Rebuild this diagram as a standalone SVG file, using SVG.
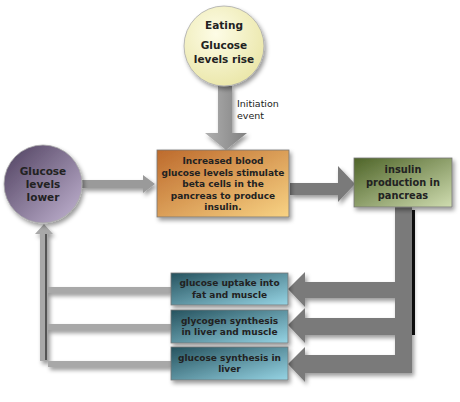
<svg xmlns="http://www.w3.org/2000/svg" width="460" height="402" viewBox="0 0 460 402">
<defs>
<radialGradient id="gYellow" cx="0.4" cy="0.35" r="0.7">
<stop offset="0" stop-color="#fdfce6"/><stop offset="1" stop-color="#eae6a8"/>
</radialGradient>
<linearGradient id="gPurple" x1="0" y1="0" x2="1" y2="1">
<stop offset="0" stop-color="#4e3f5e"/><stop offset="1" stop-color="#c3b5d3"/>
</linearGradient>
<linearGradient id="gOrange" x1="0" y1="0" x2="1" y2="1">
<stop offset="0" stop-color="#bd6a2c"/><stop offset="1" stop-color="#f8d384"/>
</linearGradient>
<linearGradient id="gGreen" x1="0" y1="0" x2="1" y2="1">
<stop offset="0" stop-color="#4e6428"/><stop offset="1" stop-color="#cfdcb0"/>
</linearGradient>
<linearGradient id="gTeal" x1="0" y1="0" x2="1" y2="1">
<stop offset="0" stop-color="#25525e"/><stop offset="1" stop-color="#96d4e4"/>
</linearGradient>
<linearGradient id="gShaft" x1="0" y1="0" x2="1" y2="0">
<stop offset="0" stop-color="#b0b0b0"/><stop offset="1" stop-color="#808080"/>
</linearGradient>
<filter id="sh" x="-20%" y="-20%" width="150%" height="150%">
<feDropShadow dx="2" dy="3" stdDeviation="2" flood-color="#000" flood-opacity="0.4"/>
</filter>
</defs>
<style>
.t{font-family:"DejaVu Sans",Verdana,sans-serif;font-weight:bold;fill:#222;text-anchor:middle}
.n{font-family:"DejaVu Sans",Verdana,sans-serif;fill:#222}
.box{stroke:#777;stroke-width:0.8}
</style>
<g id="connectors">
<path d="M218 86 H232 V133 H247 L226 150 L205 133 H218 Z" fill="url(#gShaft)" filter="url(#sh)"/>
<path d="M82 180 H143 V175 L155 184 L143 193 V188 H82 Z" fill="#9a9a9a" filter="url(#sh)"/>
<path d="M290 183 H338 V166 L355 184 L338 202 V195 H290 Z" fill="#7a7a7a" filter="url(#sh)"/>
<rect x="412" y="210" width="3" height="125" fill="#111"/>
<path d="M395 207 H412 V373 H305 V382 L288 364 L305 347 V355 H395 V335 H305 V343 L288 325 L305 308 V318 H395 V298 H305 V307 L288 289 L305 272 V282 H395 Z" fill="#7a7a7a" filter="url(#sh)"/>
<path d="M171 287 H48 V293 H171 Z M171 324 H48 V330 H171 Z M171 361 H40 V234 H35 L44 224 L53 234 H48 V367 H171 Z" fill="#a8a8a8" filter="url(#sh)"/>
<rect x="45" y="234" width="2" height="126" fill="#555"/>
</g>
<g id="eating">
<circle cx="224" cy="46" r="40" fill="url(#gYellow)" stroke="#aaa" stroke-width="0.8" filter="url(#sh)"/>
<text class="t" x="224" y="29" font-size="10.5">Eating</text>
<text class="t" x="224" y="49" font-size="10.5">Glucose</text>
<text class="t" x="224" y="63" font-size="10.5">levels rise</text>
</g>
<g id="initiation-label">
<text class="n" x="237" y="107" font-size="9.5">Initiation</text>
<text class="n" x="237" y="119" font-size="9.5">event</text>
</g>
<g id="glucose-lower">
<circle cx="43" cy="184" r="39" fill="url(#gPurple)" stroke="#aaa" stroke-width="0.8" filter="url(#sh)"/>
<text class="t" x="43" y="175" font-size="10.5">Glucose</text>
<text class="t" x="43" y="188" font-size="10.5">levels</text>
<text class="t" x="43" y="201" font-size="10.5">lower</text>
</g>
<g id="stimulate">
<rect class="box" x="157" y="150" width="132" height="67" fill="url(#gOrange)" filter="url(#sh)"/>
<text class="t" x="223" y="164" font-size="9">Increased blood</text>
<text class="t" x="223" y="176" font-size="9">glucose levels stimulate</text>
<text class="t" x="223" y="187" font-size="9">beta cells in the</text>
<text class="t" x="223" y="199" font-size="9">pancreas to produce</text>
<text class="t" x="223" y="210" font-size="9">insulin.</text>
</g>
<g id="insulin">
<rect class="box" x="354" y="158" width="98" height="49" fill="url(#gGreen)" filter="url(#sh)"/>
<text class="t" x="403" y="173" font-size="9.8">insulin</text>
<text class="t" x="403" y="186" font-size="9.8">production in</text>
<text class="t" x="403" y="199" font-size="9.8">pancreas</text>
</g>
<g id="uptake">
<rect class="box" x="171" y="273" width="117" height="32" fill="url(#gTeal)" filter="url(#sh)"/>
<text class="t" x="229.5" y="286" font-size="9">glucose uptake into</text>
<text class="t" x="229.5" y="298" font-size="9">fat and muscle</text>
</g>
<g id="glycogen">
<rect class="box" x="171" y="310" width="117" height="33" fill="url(#gTeal)" filter="url(#sh)"/>
<text class="t" x="229.5" y="324" font-size="9">glycogen synthesis</text>
<text class="t" x="229.5" y="335" font-size="9">in liver and muscle</text>
</g>
<g id="synthesis">
<rect class="box" x="171" y="347" width="117" height="33" fill="url(#gTeal)" filter="url(#sh)"/>
<text class="t" x="229.5" y="361" font-size="9">glucose synthesis in</text>
<text class="t" x="229.5" y="372" font-size="9">liver</text>
</g>
</svg>
